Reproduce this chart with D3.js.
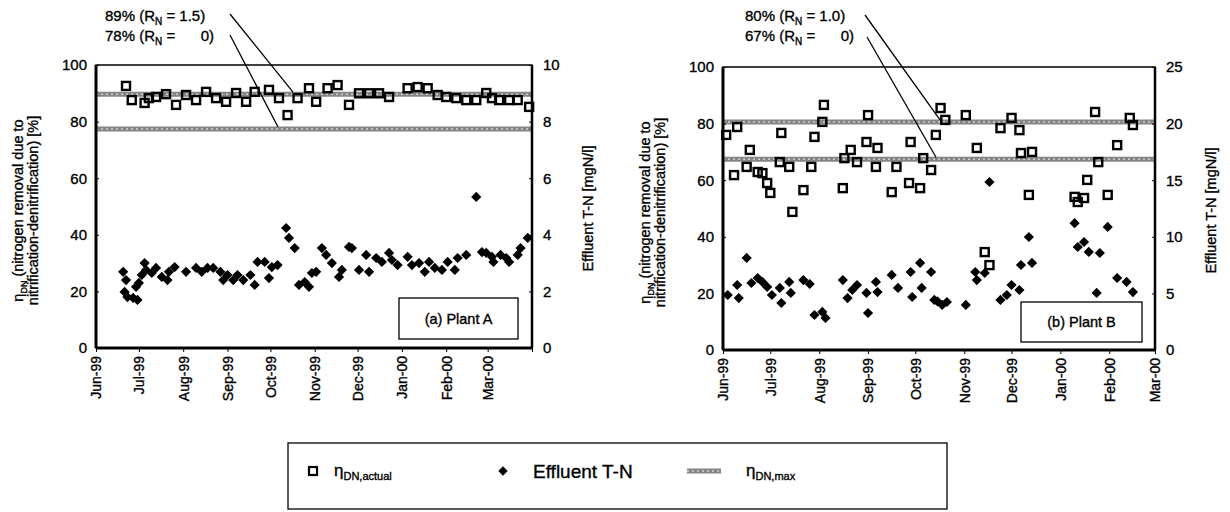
<!DOCTYPE html>
<meta charset="utf-8">
<style>
    html, body { margin: 0; padding: 0; background: #fff; }
    svg { display: block; font-family: "Liberation Sans", Arial, sans-serif; }
    svg text { fill: #000; stroke: #000; stroke-width: 0.35px; }
</style>
<svg id="chart" width="1230" height="512"></svg>
<script src="https://d3js.org/d3.v7.min.js"></script>
<script>
    // month ticks on the date axes
    const tickMonthsA = ["1999-06-01", "1999-07-01", "1999-08-01", "1999-09-01", "1999-10-01",
        "1999-11-01", "1999-12-01", "2000-01-01", "2000-02-01", "2000-03-01"];
    const tickMonthsB = tickMonthsA;

    // Plant A : eta DN actual [%]
    const aActualDates = ["1999-06-22", "1999-06-26", "1999-07-05", "1999-07-08", "1999-07-13", "1999-07-20",
        "1999-07-27", "1999-08-03", "1999-08-10", "1999-08-17", "1999-08-24", "1999-08-31", "1999-09-07",
        "1999-09-14", "1999-09-20", "1999-09-30", "1999-10-07", "1999-10-13", "1999-10-20", "1999-10-28",
        "1999-11-02", "1999-11-10", "1999-11-17", "1999-11-25", "1999-12-02", "1999-12-09", "1999-12-16",
        "1999-12-23", "2000-01-05", "2000-01-12", "2000-01-19", "2000-01-26", "2000-02-01", "2000-02-08",
        "2000-02-15", "2000-02-22", "2000-02-29", "2000-03-04", "2000-03-09", "2000-03-16", "2000-03-22",
        "2000-03-30"];
    const aActualValues = [92.6, 87.6, 86.6, 88.3, 88.7, 89.7, 85.9, 89.4, 87.6, 90.5, 88.3, 87.0, 90.1,
        87.0, 90.5, 91.2, 88.3, 82.3, 88.3, 91.8, 87.0, 91.8, 92.9, 85.9, 90.0, 90.0, 90.0, 88.7, 91.8,
        92.2, 91.8, 89.4, 88.7, 88.3, 87.6, 87.6, 90.1, 88.3, 87.6, 87.6, 87.6, 85.2];

    // Plant A : effluent T-N [mgN/l]
    const aTnDates = ["1999-06-20", "1999-06-21", "1999-06-22", "1999-06-23", "1999-06-27", "1999-06-29",
        "1999-06-30", "1999-07-01", "1999-07-03", "1999-07-05", "1999-07-06", "1999-07-10", "1999-07-13",
        "1999-07-17", "1999-07-21", "1999-07-22", "1999-07-26", "1999-08-03", "1999-08-10", "1999-08-14",
        "1999-08-18", "1999-08-22", "1999-08-27", "1999-08-29", "1999-09-01", "1999-09-05", "1999-09-08",
        "1999-09-12", "1999-09-17", "1999-09-20", "1999-09-22", "1999-09-27", "1999-09-30", "1999-10-02",
        "1999-10-06", "1999-10-12", "1999-10-14", "1999-10-18", "1999-10-21", "1999-10-25", "1999-10-28",
        "1999-10-30", "1999-11-02", "1999-11-06", "1999-11-09", "1999-11-13", "1999-11-18", "1999-11-20",
        "1999-11-25", "1999-11-27", "1999-12-02", "1999-12-07", "1999-12-09", "1999-12-14", "1999-12-18",
        "1999-12-23", "1999-12-25", "1999-12-29", "2000-01-05", "2000-01-08", "2000-01-13", "2000-01-17",
        "2000-01-20", "2000-01-24", "2000-01-29", "2000-02-02", "2000-02-07", "2000-02-09", "2000-02-15",
        "2000-02-22", "2000-02-26", "2000-02-29", "2000-03-04", "2000-03-05", "2000-03-10", "2000-03-14",
        "2000-03-16", "2000-03-22", "2000-03-24", "2000-03-29"];
    const aTnValues = [2.69, 1.98, 2.40, 1.80, 1.77, 2.16, 1.70, 2.30, 2.58, 3.00, 2.76, 2.65, 2.83,
        2.51, 2.40, 2.69, 2.86, 2.69, 2.83, 2.69, 2.83, 2.83, 2.69, 2.40, 2.58, 2.40, 2.58, 2.40, 2.58,
        2.23, 3.04, 3.04, 2.47, 2.86, 2.93, 4.24, 3.89, 3.53, 2.23, 2.33, 2.16, 2.65, 2.69, 3.53, 3.29,
        3.00, 2.51, 2.76, 3.57, 3.53, 2.76, 3.29, 2.69, 3.18, 3.04, 3.36, 3.11, 2.93, 3.22, 2.93, 3.00,
        2.69, 3.04, 2.83, 2.76, 3.04, 2.76, 3.18, 3.29, 5.34, 3.39, 3.36, 3.22, 3.04, 3.29, 3.18, 3.04,
        3.29, 3.53, 3.89];

    // Plant B : eta DN actual [%]
    const bActualDates = ["1999-06-03", "1999-06-08", "1999-06-10", "1999-06-16", "1999-06-18", "1999-06-23",
        "1999-06-26", "1999-06-29", "1999-07-01", "1999-07-07", "1999-07-08", "1999-07-13", "1999-07-15",
        "1999-07-22", "1999-07-27", "1999-07-29", "1999-08-03", "1999-08-04", "1999-08-16", "1999-08-17",
        "1999-08-21", "1999-08-25", "1999-08-31", "1999-09-01", "1999-09-06", "1999-09-07", "1999-09-16",
        "1999-09-19", "1999-09-27", "1999-09-28", "1999-10-04", "1999-10-06", "1999-10-11", "1999-10-14",
        "1999-10-17", "1999-10-20", "1999-11-02", "1999-11-09", "1999-11-14", "1999-11-17", "1999-11-24",
        "1999-12-01", "1999-12-06", "1999-12-07", "1999-12-12", "1999-12-14", "2000-01-10", "2000-01-12",
        "2000-01-16", "2000-01-18", "2000-01-23", "2000-01-25", "2000-01-31", "2000-02-06", "2000-02-14",
        "2000-02-16"];
    const bActualValues = [76.0, 61.8, 78.8, 64.7, 70.7, 62.9, 62.5, 59.0, 55.5, 66.4, 76.7, 64.7, 48.8,
        56.5, 64.7, 75.3, 80.6, 86.6, 57.2, 67.8, 70.7, 66.4, 73.5, 83.0, 64.7, 71.4, 55.8, 64.7, 59.0,
        73.5, 57.2, 67.8, 63.6, 76.0, 85.5, 81.3, 83.0, 71.4, 34.6, 30.0, 78.4, 82.0, 77.7, 69.6, 54.8,
        70.0, 54.1, 52.3, 53.7, 60.1, 84.1, 66.4, 54.8, 72.4, 82.0, 79.5];

    // Plant B : effluent T-N [mgN/l]
    const bTnDates = ["1999-06-04", "1999-06-10", "1999-06-11", "1999-06-16", "1999-06-19", "1999-06-23",
        "1999-06-26", "1999-06-29", "1999-07-02", "1999-07-07", "1999-07-08", "1999-07-13", "1999-07-14",
        "1999-07-22", "1999-07-26", "1999-07-29", "1999-08-03", "1999-08-05", "1999-08-16", "1999-08-19",
        "1999-08-22", "1999-08-25", "1999-08-31", "1999-09-01", "1999-09-06", "1999-09-07", "1999-09-16",
        "1999-09-20", "1999-09-28", "1999-09-29", "1999-10-04", "1999-10-05", "1999-10-11", "1999-10-13",
        "1999-10-15", "1999-10-18", "1999-10-21", "1999-11-02", "1999-11-08", "1999-11-09", "1999-11-14",
        "1999-11-17", "1999-11-24", "1999-11-28", "1999-12-01", "1999-12-06", "1999-12-07", "1999-12-12",
        "1999-12-14", "2000-01-10", "2000-01-12", "2000-01-16", "2000-01-19", "2000-01-24", "2000-01-26",
        "2000-01-31", "2000-02-06", "2000-02-12", "2000-02-16"];
    const bTnValues = [4.86, 5.74, 4.59, 8.13, 5.92, 6.36, 6.01, 5.57, 4.86, 5.48, 4.15, 6.01, 5.04,
        6.18, 5.83, 3.09, 3.36, 2.83, 6.18, 4.59, 5.30, 5.74, 5.04, 3.27, 6.01, 5.12, 6.63, 5.48, 6.89,
        4.68, 7.69, 5.48, 6.89, 4.42, 4.30, 3.98, 4.24, 3.98, 6.89, 6.18, 6.80, 14.84, 4.42, 4.86, 5.74,
        5.30, 7.51, 9.98, 7.69, 11.2, 9.10, 9.54, 8.66, 5.04, 8.57, 10.87, 6.36, 6.01, 5.12];

    // eta DN,max levels [%]
    const aMaxLevels = [89.7, 77.4];
    const bMaxLevels = [80.6, 67.4];
    const aMaxNotes = [["89% (R", "N", " = 1.5)"], ["78% (R", "N", " =", "0)"]];
    const bMaxNotes = [["80% (R", "N", " = 1.0)"], ["67% (R", "N", " =", "0)"]];

    const parse = d3.timeParse("%Y-%m-%d");
    const fmt = d3.timeFormat("%b-%y");
    const svg = d3.select("#chart");

    function drawPanel(p) {
        const x = d3.scaleTime().domain([parse(p.start), parse(p.end)]).range([p.left, p.right]);
        const y = d3.scaleLinear().domain([0, 100]).range([p.bottom, p.top]);
        const y2 = d3.scaleLinear().domain([0, p.tnMax]).range([p.bottom, p.top]);
        const g = svg.append("g");

        // eta max bands (textured grey)
        p.levels.forEach(v => {
            g.append("line").attr("x1", p.left).attr("x2", p.right)
                .attr("y1", y(v)).attr("y2", y(v))
                .attr("stroke", "#858585").attr("stroke-width", 5);
            g.append("line").attr("x1", p.left).attr("x2", p.right)
                .attr("y1", y(v)).attr("y2", y(v))
                .attr("stroke", "#d0d0d0").attr("stroke-width", 1.5)
                .attr("stroke-dasharray", "2,3");
        });

        // annotation leader lines
        p.leaders.forEach((l, i) => {
            g.append("line").attr("x1", l[0]).attr("y1", l[1])
                .attr("x2", l[2]).attr("y2", y(p.levels[i]) - 2)
                .attr("stroke", "#000").attr("stroke-width", 1.3);
        });

        // annotation text
        p.notes.forEach((n, i) => {
            const t = g.append("text").attr("x", p.noteX).attr("y", 21 + i * 20)
                .attr("font-size", 15);
            t.append("tspan").text(n[0]);
            t.append("tspan").attr("font-size", 10).attr("dy", 4).text(n[1]);
            t.append("tspan").attr("dy", -4).text(n[2]);
            if (n[3]) {
                g.append("text").attr("x", p.noteEnd).attr("y", 21 + i * 20)
                    .attr("font-size", 15).attr("text-anchor", "end").text(n[3]);
            }
        });

        // frame
        g.append("rect").attr("x", p.left).attr("y", p.top)
            .attr("width", p.right - p.left).attr("height", p.bottom - p.top)
            .attr("fill", "none").attr("stroke", "#000").attr("stroke-width", 1.5);
        g.append("line").attr("x1", p.left).attr("x2", p.left).attr("y1", p.top).attr("y2", p.bottom)
            .attr("stroke", "#000").attr("stroke-width", 3);
        g.append("line").attr("x1", p.left).attr("x2", p.right).attr("y1", p.bottom).attr("y2", p.bottom)
            .attr("stroke", "#000").attr("stroke-width", 3);
        g.append("line").attr("x1", p.right).attr("x2", p.right).attr("y1", p.top).attr("y2", p.bottom)
            .attr("stroke", "#000").attr("stroke-width", 2.5);

        // axes
        const yAxis = g.append("g").attr("transform", `translate(${p.left},0)`)
            .call(d3.axisLeft(y).tickValues([0, 20, 40, 60, 80, 100]).tickSize(-3).tickPadding(9));
        const y2Axis = g.append("g").attr("transform", `translate(${p.right},0)`)
            .call(d3.axisRight(y2).tickValues(p.tnTicks).tickSize(-3).tickPadding(11));
        const xAxis = g.append("g").attr("transform", `translate(0,${p.bottom})`)
            .call(d3.axisBottom(x).tickValues(p.ticks.map(parse)).tickFormat(fmt).tickSize(4));
        [yAxis, y2Axis, xAxis].forEach(a => {
            a.select(".domain").remove();
            a.selectAll(".tick line").attr("stroke", "#000").attr("stroke-width", 1);
            a.selectAll(".tick text").attr("font-family", "Liberation Sans, Arial, sans-serif")
                .attr("font-size", 15);
        });
        xAxis.selectAll(".tick text")
            .attr("font-size", 14)
            .attr("transform", "rotate(-90)")
            .attr("text-anchor", "end")
            .attr("x", -8).attr("y", 0).attr("dy", "0.35em");

        // y titles
        const t1 = g.append("text").attr("transform", `translate(${p.left - 73},${(p.top + p.bottom) / 2 + 4}) rotate(-90)`)
            .attr("text-anchor", "middle").attr("font-size", 14.5);
        t1.append("tspan").text("η");
        t1.append("tspan").attr("font-size", 9).attr("dy", 4).text("DN");
        t1.append("tspan").attr("dy", -4).text(" (nitrogen removal due to");
        g.append("text").attr("transform", `translate(${p.left - 58},${(p.top + p.bottom) / 2 + 4}) rotate(-90)`)
            .attr("text-anchor", "middle").attr("font-size", 14.5)
            .text("nitrification-denitrification) [%]");
        g.append("text").attr("transform", `translate(${p.right + 61},${(p.top + p.bottom) / 2 + 2}) rotate(-90)`)
            .attr("text-anchor", "middle").attr("font-size", 14.5)
            .text("Effluent T-N [mgN/l]");

        // plant label box
        g.append("rect").attr("x", p.box[0]).attr("y", p.box[1]).attr("width", p.box[2]).attr("height", p.box[3])
            .attr("fill", "#fff").attr("stroke", "#000").attr("stroke-width", 1.3);
        g.append("text").attr("x", p.box[0] + p.box[2] / 2).attr("y", p.box[1] + p.box[3] / 2 + 5)
            .attr("text-anchor", "middle").attr("font-size", 14.5).text(p.label);

        // effluent T-N diamonds
        g.selectAll(".tn").data(p.tnDates.map((d, i) => ({ d: parse(d), v: p.tnValues[i] })))
            .join("path").attr("class", "tn")
            .attr("d", d3.symbol(d3.symbolSquare, 52)())
            .attr("transform", d => `translate(${x(d.d)},${y2(d.v)}) rotate(45)`)
            .attr("fill", "#000");

        // eta actual squares
        g.selectAll(".act").data(p.actDates.map((d, i) => ({ d: parse(d), v: p.actValues[i] })))
            .join("rect").attr("class", "act")
            .attr("x", d => x(d.d) - 4).attr("y", d => y(d.v) - 4)
            .attr("width", 8).attr("height", 8)
            .attr("fill", "none").attr("stroke", "#000").attr("stroke-width", 2.4);
    }

    drawPanel({
        left: 96, right: 532, top: 65, bottom: 348,
        start: "1999-06-01", end: "2000-04-01", ticks: tickMonthsA.concat(["2000-04-01"]),
        tnMax: 10, tnTicks: [0, 2, 4, 6, 8, 10],
        levels: aMaxLevels, notes: aMaxNotes, noteX: 105, noteEnd: 214,
        leaders: [[230, 14, 293], [230, 35, 278]],
        box: [399, 298, 119, 41], label: "(a) Plant A",
        actDates: aActualDates, actValues: aActualValues, tnDates: aTnDates, tnValues: aTnValues
    });
    drawPanel({
        left: 723, right: 1155, top: 67, bottom: 350,
        start: "1999-06-01", end: "2000-03-01", ticks: tickMonthsB,
        tnMax: 25, tnTicks: [0, 5, 10, 15, 20, 25],
        levels: bMaxLevels, notes: bMaxNotes, noteX: 745, noteEnd: 854,
        leaders: [[865, 15, 940], [867, 37, 936]],
        box: [1021, 302, 121, 40], label: "(b) Plant B",
        actDates: bActualDates, actValues: bActualValues, tnDates: bTnDates, tnValues: bTnValues
    });
    // the left panel's Apr-00 end tick has no label
    svg.selectAll("g .tick text").filter(function () { return d3.select(this).text() === "Apr-00"; }).remove();

    // legend
    const lg = svg.append("g");
    lg.append("rect").attr("x", 288).attr("y", 443).attr("width", 659).attr("height", 66)
        .attr("fill", "#fff").attr("stroke", "#000").attr("stroke-width", 1.3);
    lg.append("rect").attr("x", 309).attr("y", 467).attr("width", 8).attr("height", 8)
        .attr("fill", "none").attr("stroke", "#000").attr("stroke-width", 2.2);
    const l1 = lg.append("text").attr("x", 334).attr("y", 476).attr("font-size", 17);
    l1.append("tspan").text("η");
    l1.append("tspan").attr("font-size", 11).attr("dy", 4).text("DN,actual");
    lg.append("path").attr("d", d3.symbol(d3.symbolSquare, 44)())
        .attr("transform", "translate(503,471) rotate(45)").attr("fill", "#000");
    lg.append("text").attr("x", 533).attr("y", 478).attr("font-size", 19).text("Effluent T-N");
    lg.append("line").attr("x1", 687).attr("x2", 721).attr("y1", 471).attr("y2", 471)
        .attr("stroke", "#858585").attr("stroke-width", 5);
    lg.append("line").attr("x1", 687).attr("x2", 721).attr("y1", 471).attr("y2", 471)
        .attr("stroke", "#d0d0d0").attr("stroke-width", 1.5).attr("stroke-dasharray", "2,3");
    const l3 = lg.append("text").attr("x", 746).attr("y", 476).attr("font-size", 17);
    l3.append("tspan").text("η");
    l3.append("tspan").attr("font-size", 11).attr("dy", 4).text("DN,max");
</script>
